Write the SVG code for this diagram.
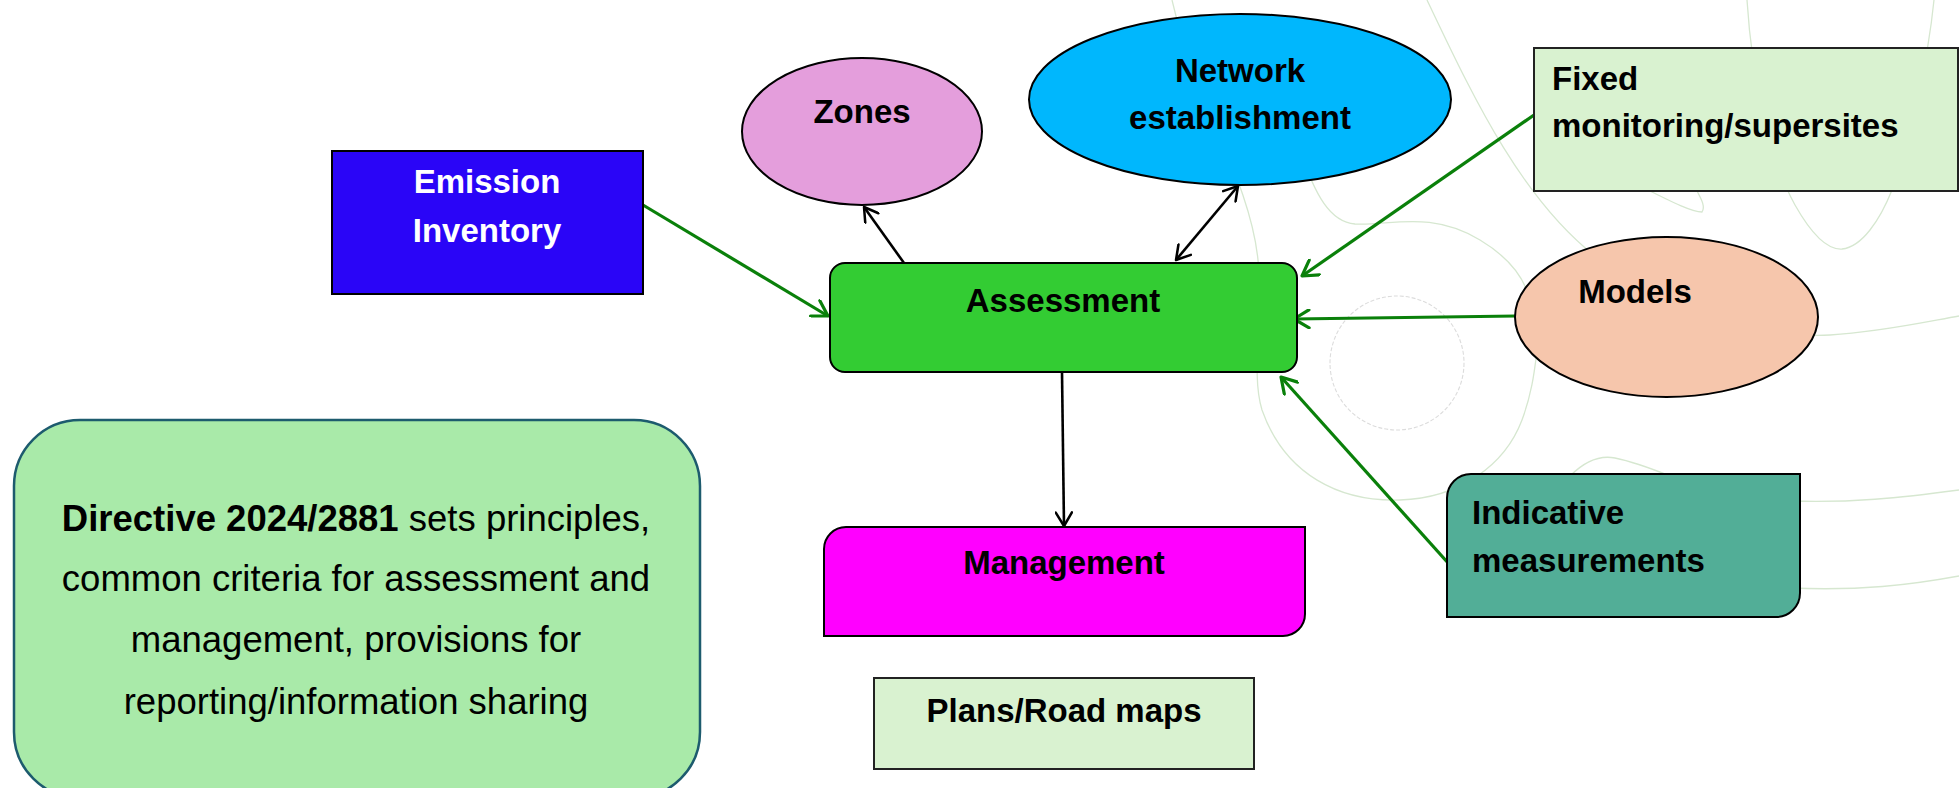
<svg xmlns="http://www.w3.org/2000/svg" width="1959" height="788" viewBox="0 0 1959 788">
<style>
.bg{fill:none;stroke:#d6e7d0;stroke-width:1.3}
.lbl{font-family:"Liberation Sans",Arial,sans-serif;font-weight:bold;font-size:33px;fill:#000}
.body{font-family:"Liberation Sans",Arial,sans-serif;font-size:36.5px;fill:#000}
.node{stroke:#000;stroke-width:2}
.cg{fill:none;stroke:#0A800A;stroke-width:3.2}
.ck{fill:none;stroke:#000;stroke-width:2.6}
</style>
<defs>
<marker id="ag" viewBox="0 0 20 20" refX="18" refY="10" markerWidth="20" markerHeight="20" markerUnits="userSpaceOnUse" orient="auto-start-reverse">
<path d="M3,1 L18,10 L3,19" fill="none" stroke="#0A800A" stroke-width="3.2" stroke-linecap="round" stroke-linejoin="round"/>
</marker>
<marker id="ak" viewBox="0 0 20 20" refX="18" refY="10" markerWidth="18" markerHeight="18" markerUnits="userSpaceOnUse" orient="auto-start-reverse">
<path d="M3,1 L18,10 L3,19" fill="none" stroke="#000" stroke-width="2.8" stroke-linecap="round" stroke-linejoin="round"/>
</marker>
</defs>
<rect width="1959" height="788" fill="#fff"/>
<g id="background">
<path class="bg" d="M1172,0 C1195,100 1250,180 1258,260 C1265,320 1250,370 1262,410 C1285,475 1340,502 1400,500 C1460,498 1505,465 1522,420 C1535,385 1535,360 1540,330 C1550,290 1570,265 1600,250"/>
<path class="bg" d="M1427,0 C1470,90 1520,200 1600,260 C1680,320 1780,338 1830,335 C1880,332 1925,322 1959,316"/>
<path class="bg" d="M1300,150 C1315,195 1330,222 1355,224 C1390,226 1430,210 1480,240 C1510,258 1525,280 1530,300"/>
<circle cx="1397" cy="363" r="67" fill="none" stroke="#dcdcdc" stroke-width="1.1" stroke-dasharray="4 2"/>
<path class="bg" d="M1747,0 C1752,80 1770,160 1795,205 C1812,235 1828,250 1842,249 C1862,247 1880,220 1892,190 C1910,140 1928,60 1934,0"/>
<path class="bg" d="M1650,191 C1672,202 1692,212 1702,212 C1706,206 1700,197 1697,191"/>
<path class="bg" d="M1790,501 C1850,503 1900,498 1959,490"/>
<path class="bg" d="M1790,588 C1860,591 1910,585 1959,576"/>
<path class="bg" d="M1570,476 C1585,461 1600,455 1615,458 C1635,462 1655,470 1670,476"/>
</g>
<g id="connectors">
<line class="cg" x1="643" y1="205" x2="828" y2="316" marker-end="url(#ag)"/>
<line class="ck" x1="904" y1="263" x2="864" y2="207" marker-end="url(#ak)"/>
<line class="ck" x1="1238" y1="186" x2="1176" y2="260" marker-start="url(#ak)" marker-end="url(#ak)"/>
<line class="cg" x1="1534" y1="115" x2="1302" y2="276" marker-end="url(#ag)"/>
<line class="cg" x1="1516" y1="316" x2="1294" y2="319" stroke-width="3.6" marker-end="url(#ag)"/>
<line class="cg" x1="1449" y1="564" x2="1281" y2="377" marker-end="url(#ag)"/>
<line class="ck" x1="1062" y1="372" x2="1064" y2="526" marker-end="url(#ak)"/>
</g>
<g id="emission">
<rect class="node" x="332" y="151" width="311" height="143" fill="#2A05F7"/>
<text class="lbl" x="487" y="193" text-anchor="middle" style="fill:#fff">Emission</text>
<text class="lbl" x="487" y="242" text-anchor="middle" style="fill:#fff">Inventory</text>
</g>
<g id="zones">
<ellipse class="node" cx="862" cy="131.5" rx="120" ry="73.5" fill="#E49EDC"/>
<text class="lbl" x="862" y="123" text-anchor="middle">Zones</text>
</g>
<g id="network">
<ellipse class="node" cx="1240" cy="99.5" rx="211" ry="85.5" fill="#00B7FD"/>
<text class="lbl" x="1240" y="82" text-anchor="middle">Network</text>
<text class="lbl" x="1240" y="129" text-anchor="middle">establishment</text>
</g>
<g id="fixed">
<rect x="1534" y="48" width="424" height="143" fill="#D9F2D0" stroke="#222" stroke-width="2"/>
<text class="lbl" x="1552" y="90">Fixed</text>
<text class="lbl" x="1552" y="137">monitoring/supersites</text>
</g>
<g id="assessment">
<rect class="node" x="830" y="263" width="467" height="109" rx="15" ry="15" fill="#33CC33"/>
<text class="lbl" x="1063" y="312" text-anchor="middle">Assessment</text>
</g>
<g id="models">
<ellipse class="node" cx="1666.5" cy="317" rx="151.5" ry="80" fill="#F6C6AC"/>
<text class="lbl" x="1635" y="303" text-anchor="middle">Models</text>
</g>
<g id="indicative">
<path class="node" d="M1471,474 H1800 V593 A24,24 0 0 1 1776,617 H1447 V498 A24,24 0 0 1 1471,474 Z" fill="#52AE97"/>
<text class="lbl" x="1472" y="524">Indicative</text>
<text class="lbl" x="1472" y="572">measurements</text>
</g>
<g id="management">
<path class="node" d="M846,527 H1305 V614 A22,22 0 0 1 1283,636 H824 V549 A22,22 0 0 1 846,527 Z" fill="#FF00FF"/>
<text class="lbl" x="1064" y="574" text-anchor="middle">Management</text>
</g>
<g id="plans">
<rect x="874" y="678" width="380" height="91" fill="#D9F2D0" stroke="#222" stroke-width="2"/>
<text class="lbl" x="1064" y="722" text-anchor="middle">Plans/Road maps</text>
</g>
<g id="directive">
<rect x="14" y="420" width="686" height="378" rx="66" ry="66" fill="#A9EAA9" stroke="#1D5B6E" stroke-width="2.5"/>
<text class="body" x="356" y="531" text-anchor="middle"><tspan font-weight="bold">Directive 2024/2881</tspan> sets principles,</text>
<text class="body" x="356" y="591" text-anchor="middle">common criteria for assessment and</text>
<text class="body" x="356" y="652" text-anchor="middle">management, provisions for</text>
<text class="body" x="356" y="714" text-anchor="middle">reporting/information sharing</text>
</g>
</svg>
